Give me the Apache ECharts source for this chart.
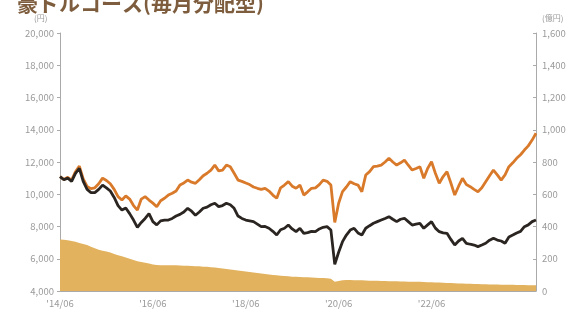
<!DOCTYPE html>
<html><head><meta charset="utf-8">
<script src="https://cdn.jsdelivr.net/npm/echarts@6/dist/echarts.min.js"></script>
<style>html,body{margin:0;padding:0;background:#fff}#c{width:576px;height:313px}</style>
</head><body><div id="c"></div>
<script>
const titleText = '豪ドルコース(毎月分配型)';
const startYear = 2014, startMonth = 6, monthCount = 124;
const labelMonths = ["'14/06", "'16/06", "'18/06", "'20/06", "'22/06"];
// 基準価額 (円)
const navValues = [11090,10900,11000,10800,11300,11600,10800,10300,10100,10100,10300,10570,10400,10200,9800,9300,9020,9150,8800,8400,7950,8250,8500,8800,8300,8100,8350,8400,8400,8500,8650,8750,8900,9130,8950,8700,8900,9130,9200,9350,9440,9230,9300,9440,9350,9130,8650,8500,8400,8350,8300,8150,7990,8000,7890,7700,7470,7800,7890,8090,7850,7680,7890,7580,7620,7700,7680,7850,7950,7990,7780,5650,6400,7060,7470,7780,7890,7600,7470,7890,8050,8200,8300,8400,8500,8610,8450,8300,8450,8510,8300,8090,8150,8200,7890,8100,8300,7900,7680,7600,7580,7200,6850,7100,7270,6960,6900,6850,6750,6850,6960,7150,7270,7160,7100,6960,7350,7470,7600,7700,7990,8100,8300,8400];
// 分配金再投資基準価額 (円)
const reinvestValues = [11090,10920,11050,10880,11400,11750,10950,10480,10350,10400,10650,11000,10850,10650,10300,9850,9640,9900,9700,9300,9020,9700,9850,9640,9450,9230,9600,9750,9950,10060,10200,10570,10700,10880,10750,10680,10900,11150,11300,11500,11810,11450,11500,11810,11700,11300,10880,10800,10700,10600,10450,10370,10300,10370,10200,9950,9750,10400,10570,10780,10500,10370,10570,9950,10150,10370,10400,10600,10880,10800,10570,8250,9440,10160,10450,10780,10650,10570,10160,11190,11400,11710,11750,11810,12000,12230,12000,11810,11950,12120,11800,11500,11600,11710,10990,11600,12020,11300,10680,11100,11400,10700,9950,10500,10990,10600,10470,10300,10160,10400,10780,11150,11500,11200,10880,11200,11710,11950,12230,12450,12740,13000,13360,13780];
// 純資産総額 (億円)
const assetValues = [320,318,315,310,305,298,292,285,275,265,256,250,245,238,230,222,215,208,200,193,185,180,175,170,165,162,160,160,159,160,160,158,157,156,155,154,153,151,150,148,146,143,140,137,134,130,127,124,121,118,115,112,109,105,102,99,97,95,93,91,89,88,87,86,85,83,82,81,80,79,76,58,62,66,68,68,67,66,66,65,64,64,63,62,62,61,60,60,59,59,58,58,57,57,56,55,54,53,52,51,50,49,48,47,46,45,45,44,43,42,42,41,40,40,39,39,38,38,37,37,37,36,36,36];

const months = [];
for (let i = 0; i < monthCount; i++) {
  const t = (startMonth - 1) + i;
  const y = startYear + Math.floor(t / 12), m = t % 12 + 1;
  months.push("'" + String(y).slice(2) + '/' + String(m).padStart(2, '0'));
}
const fmt = v => v.toLocaleString('en-US');
const FONT = '"Noto Sans CJK JP", "Noto Sans", sans-serif';
const labelColor = '#9a9a9a';
const showLabel = (idx, val) => labelMonths.indexOf(val) >= 0;

const chart = echarts.init(document.getElementById('c'), null, {renderer: 'canvas'});
chart.setOption({
  animation: false,
  textStyle: {fontFamily: FONT},
  title: {text: titleText, left: 12, top: -12, textStyle: {fontFamily: FONT, fontSize: 21, fontWeight: 'bold', color: '#7d5d3d'}},
  graphic: [
    {type: 'text', left: 34, top: 14, style: {text: '(円)', fontFamily: FONT, fontSize: 8, fill: labelColor}},
    {type: 'text', left: 542, top: 14, style: {text: '(億円)', fontFamily: FONT, fontSize: 8, fill: labelColor}}
  ],
  grid: {left: 60, right: 40, top: 33, bottom: 22},
  xAxis: {
    type: 'category', data: months, boundaryGap: false,
    axisLine: {show: true, lineStyle: {color: '#aaaaaa'}},
    axisTick: {show: true, inside: true, length: 4, interval: showLabel, lineStyle: {color: '#888'}},
    axisLabel: {interval: showLabel, color: labelColor, fontSize: 9.5, fontFamily: FONT, margin: 8}
  },
  yAxis: [
    {type: 'value', min: 4000, max: 20000, interval: 2000,
     axisLine: {show: true, lineStyle: {color: '#aaaaaa'}},
     axisTick: {show: true, length: 3, lineStyle: {color: '#aaaaaa'}},
     splitLine: {show: false},
     axisLabel: {formatter: fmt, color: labelColor, fontSize: 9.5, fontFamily: FONT, margin: 6}},
    {type: 'value', min: 0, max: 1600, interval: 200, position: 'right',
     axisLine: {show: true, lineStyle: {color: '#aaaaaa'}},
     axisTick: {show: true, inside: true, length: 3, lineStyle: {color: '#aaaaaa'}},
     splitLine: {show: false},
     axisLabel: {formatter: fmt, color: labelColor, fontSize: 9.5, fontFamily: FONT, margin: 6}}
  ],
  series: [
    {name: '純資産総額', type: 'line', yAxisIndex: 1, data: assetValues, symbol: 'none',
     lineStyle: {width: 0}, areaStyle: {color: '#e2b25e', opacity: 1}},
    {name: '分配金再投資基準価額', type: 'line', data: reinvestValues, symbol: 'none',
     lineStyle: {width: 2.8, color: '#d97a2b'}},
    {name: '基準価額', type: 'line', data: navValues, symbol: 'none',
     lineStyle: {width: 2.8, color: '#2b2522'}}
  ]
});
</script></body></html>
